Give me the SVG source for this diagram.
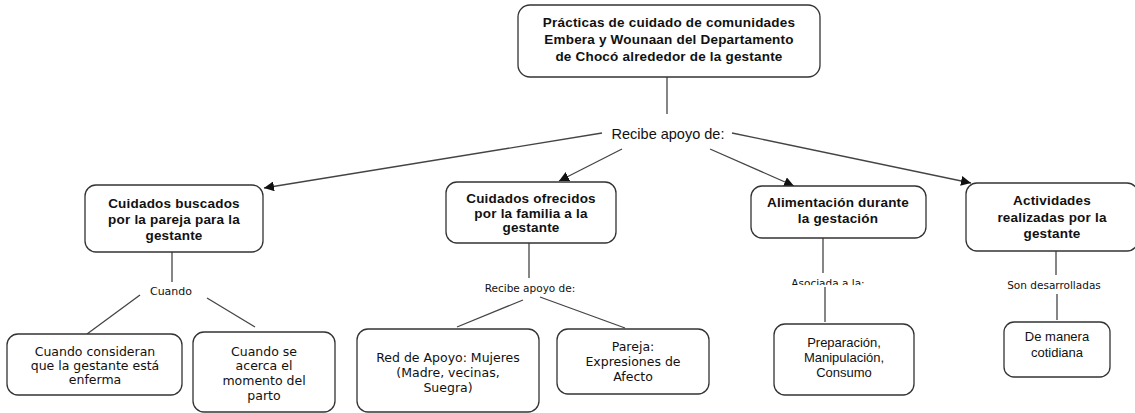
<svg xmlns="http://www.w3.org/2000/svg" width="1135" height="413" viewBox="0 0 1135 413">
<style>
.box{fill:#fff;stroke:#333;stroke-width:1.3}
.t{font-family:"Liberation Sans",Arial,sans-serif;font-size:13.5px;font-weight:bold;fill:#111;text-anchor:middle;letter-spacing:0.2px}
.n{font-family:"DejaVu Sans",Verdana,sans-serif;font-size:12.5px;fill:#111;text-anchor:middle}
.a{font-family:"Liberation Sans",Arial,sans-serif;font-size:13px;fill:#111;text-anchor:middle}
.s{font-family:"DejaVu Sans",Verdana,sans-serif;font-size:10.5px;fill:#111;text-anchor:middle}
.l{stroke:#444;stroke-width:1.3;fill:none}
</style>
<defs>
<marker id="arr" viewBox="0 0 10 10" refX="10" refY="5" markerWidth="10" markerHeight="10" markerUnits="userSpaceOnUse" orient="auto">
<path d="M0,0 L10,5 L0,10 z" fill="#111"/>
</marker>
<clipPath id="clipA"><rect x="780" y="270" width="100" height="15"/></clipPath>
</defs>
<g id="connectors">
<line class="l" x1="667" y1="77" x2="667" y2="114"/>
<line class="l" x1="602" y1="133" x2="264" y2="188" marker-end="url(#arr)"/>
<line class="l" x1="622" y1="149" x2="559" y2="181" marker-end="url(#arr)"/>
<line class="l" x1="710" y1="149" x2="794" y2="186" marker-end="url(#arr)"/>
<line class="l" x1="732" y1="133" x2="971" y2="183" marker-end="url(#arr)"/>
<line class="l" x1="172" y1="252" x2="172" y2="282"/>
<line class="l" x1="140" y1="295" x2="87" y2="334"/>
<line class="l" x1="207" y1="298" x2="255" y2="327"/>
<line class="l" x1="529" y1="243" x2="529" y2="278"/>
<line class="l" x1="523" y1="300" x2="457" y2="327"/>
<line class="l" x1="540" y1="297" x2="625" y2="328"/>
<line class="l" x1="823" y1="238" x2="823" y2="273"/>
<line class="l" x1="825" y1="287" x2="825" y2="322"/>
<line class="l" x1="1056" y1="251" x2="1056" y2="275"/>
<line class="l" x1="1057" y1="294" x2="1057" y2="320"/>
<text class="a" x="668" y="139" style="font-size:14.5px">Recibe apoyo de:</text>
<text class="s" x="171" y="295" style="font-size:11px">Cuando</text>
<text class="s" x="530" y="292">Recibe apoyo de:</text>
<text class="s" x="828" y="287" clip-path="url(#clipA)">Asociada a la:</text>
<text class="s" x="1054" y="289">Son desarrolladas</text>
</g>
<g id="n0">
<rect class="box" x="518" y="5" width="302" height="72" rx="12"/>
<text class="t" x="669" y="27">Prácticas  de cuidado de comunidades</text>
<text class="t" x="669" y="44">Embera y Wounaan  del Departamento</text>
<text class="t" x="669" y="61">de Chocó alrededor de la gestante</text>
</g>
<g id="n1">
<rect class="box" x="85" y="185" width="178" height="67" rx="11"/>
<text class="t" x="174" y="208">Cuidados buscados</text>
<text class="t" x="174" y="224">por la pareja para la</text>
<text class="t" x="174" y="240">gestante</text>
</g>
<g id="n2">
<rect class="box" x="446" y="182" width="170" height="61" rx="11"/>
<text class="t" x="531" y="203">Cuidados ofrecidos</text>
<text class="t" x="531" y="218">por la familia a la</text>
<text class="t" x="531" y="232">gestante</text>
</g>
<g id="n3">
<rect class="box" x="751" y="186" width="175" height="52" rx="11"/>
<text class="t" x="838" y="207">Alimentación durante</text>
<text class="t" x="838" y="223">la gestación</text>
</g>
<g id="n4">
<rect class="box" x="966" y="183" width="172" height="68" rx="11"/>
<text class="t" x="1052" y="205">Actividades</text>
<text class="t" x="1052" y="222">realizadas por la</text>
<text class="t" x="1052" y="238">gestante</text>
</g>
<g id="n5">
<rect class="box" x="7" y="334" width="175" height="61" rx="11"/>
<text class="n" x="95" y="356">Cuando consideran</text>
<text class="n" x="95" y="370">que la gestante está</text>
<text class="n" x="95" y="384">enferma</text>
</g>
<g id="n6">
<rect class="box" x="193" y="332" width="142" height="80" rx="11"/>
<text class="n" x="264" y="356">Cuando se</text>
<text class="n" x="264" y="370">acerca el</text>
<text class="n" x="264" y="385">momento del</text>
<text class="n" x="264" y="400">parto</text>
</g>
<g id="n7">
<rect class="box" x="357" y="329" width="182" height="83" rx="11"/>
<text class="n" x="448" y="362">Red de Apoyo: Mujeres</text>
<text class="n" x="448" y="377">(Madre, vecinas,</text>
<text class="n" x="448" y="392">Suegra)</text>
</g>
<g id="n8">
<rect class="box" x="557" y="329" width="152" height="65" rx="11"/>
<text class="n" x="633" y="351">Pareja:</text>
<text class="n" x="633" y="366">Expresiones de</text>
<text class="n" x="633" y="381">Afecto</text>
</g>
<g id="n9">
<rect class="box" x="774" y="324" width="140" height="71" rx="11"/>
<text class="a" x="844" y="347">Preparación,</text>
<text class="a" x="844" y="362">Manipulación,</text>
<text class="a" x="844" y="377">Consumo</text>
</g>
<g id="n10">
<rect class="box" x="1004" y="322" width="106" height="55" rx="10"/>
<text class="a" x="1057" y="341">De manera</text>
<text class="a" x="1057" y="357">cotidiana</text>
</g>
</svg>
